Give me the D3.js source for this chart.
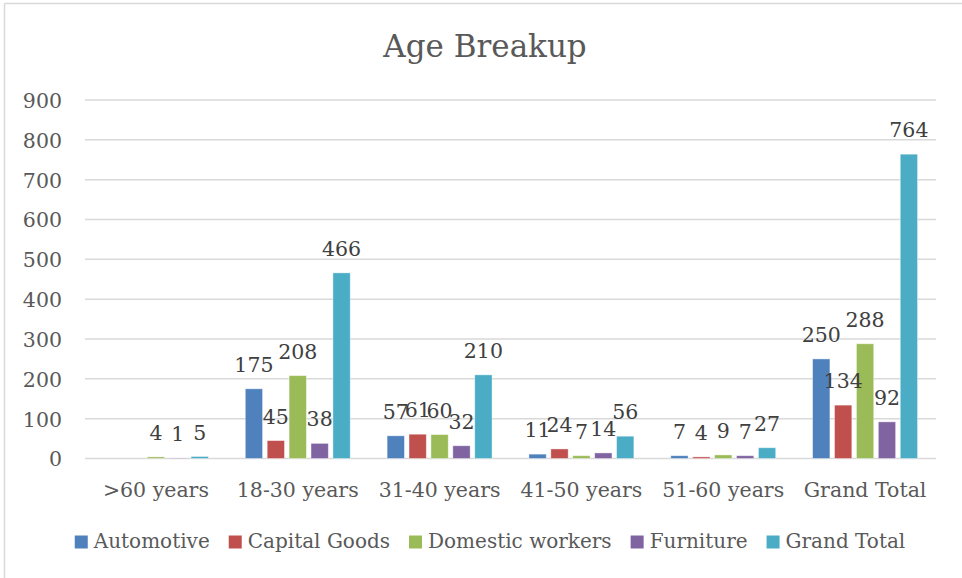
<!DOCTYPE html>
<html>
<head>
<meta charset="utf-8">
<script src="https://cdn.jsdelivr.net/npm/d3@7"></script>
<style>
  html, body { margin: 0; padding: 0; background: #fff; }
  svg { display: block; }
  text { font-family: "DejaVu Serif", serif; }
</style>
</head>
<body>
<svg id="chart" width="962" height="578"></svg>
<script>
const categories = [">60 years", "18-30 years", "31-40 years", "41-50 years", "51-60 years", "Grand Total"];
const seriesNames = ["Automotive", "Capital Goods", "Domestic workers", "Furniture", "Grand Total"];
const automotive      = [null, 175, 57, 11, 7, 250];
const capitalGoods    = [null, 45, 61, 24, 4, 134];
const domesticWorkers = [4, 208, 60, 7, 9, 288];
const furniture       = [1, 38, 32, 14, 7, 92];
const grandTotal      = [5, 466, 210, 56, 27, 764];
const yTicks = [0, 100, 200, 300, 400, 500, 600, 700, 800, 900];
const colors = ["#4F81BD", "#C0504D", "#9BBB59", "#8064A2", "#4BACC6"];
const title = "Age Breakup";

const seriesValues = [automotive, capitalGoods, domesticWorkers, furniture, grandTotal];

const svg = d3.select("#chart");
const W = 962, H = 578;

// outer border (only top and left edges are visible in the frame)
svg.append("line").attr("x1", 4.5).attr("x2", W).attr("y1", 3.5).attr("y2", 3.5)
  .attr("stroke", "#d9d9d9").attr("stroke-width", 1.5);
svg.append("line").attr("x1", 4.5).attr("x2", 4.5).attr("y1", 3.5).attr("y2", H)
  .attr("stroke", "#d9d9d9").attr("stroke-width", 1.5);

const plot = { left: 85, right: 936, top: 100, bottom: 458.5 };

const x0 = d3.scaleBand().domain(categories).range([plot.left, plot.right]).padding(0);
const x1 = d3.scaleBand().domain(seriesNames).range([0, x0.bandwidth()])
  .paddingInner(0.21).paddingOuter(0.842);
const y = d3.scaleLinear().domain([0, 900]).range([plot.bottom, plot.top]);

// gridlines
svg.append("g").selectAll("line").data(yTicks).join("line")
  .attr("x1", plot.left).attr("x2", plot.right)
  .attr("y1", d => y(d)).attr("y2", d => y(d))
  .attr("stroke", "#d9d9d9").attr("stroke-width", 1.5);

// y axis labels
const yAxis = d3.axisLeft(y).tickValues(yTicks).tickSize(0).tickPadding(0);
const gy = svg.append("g").attr("transform", `translate(62,0)`).call(yAxis);
gy.select(".domain").remove();
gy.selectAll("text").attr("fill", "#595959").style("font-size", "20.5px")
  .style("font-family", "DejaVu Serif").attr("dy", "0.36em");

// x axis labels
const xAxis = d3.axisBottom(x0).tickSize(0).tickPadding(0);
const gx = svg.append("g").attr("transform", `translate(0,497)`).call(xAxis);
gx.select(".domain").remove();
gx.selectAll("text").attr("fill", "#595959").style("font-size", "20.5px")
  .style("font-family", "DejaVu Serif").attr("dy", 0);

// bars
const data = [];
categories.forEach((c, i) => {
  seriesNames.forEach((s, j) => {
    data.push({ cat: c, series: s, value: seriesValues[j][i], color: colors[j] });
  });
});
const valid = data.filter(d => d.value != null);

svg.append("g").selectAll("rect").data(valid).join("rect")
  .attr("x", d => x0(d.cat) + x1(d.series))
  .attr("width", x1.bandwidth())
  .attr("y", d => y(d.value))
  .attr("height", d => y(0) - y(d.value))
  .attr("fill", d => d.color)
  .attr("stroke", "#ffffff").attr("stroke-opacity", 0.5).attr("stroke-width", 0.8);

// data labels
svg.append("g").selectAll("text").data(valid).join("text")
  .attr("x", d => x0(d.cat) + x1(d.series) + x1.bandwidth() / 2)
  .attr("y", d => y(d.value) - 17)
  .attr("text-anchor", "middle")
  .attr("fill", "#404040")
  .style("font-size", "20.5px")
  .text(d => d.value);

// title
svg.append("text").attr("x", 485).attr("y", 57).attr("text-anchor", "middle")
  .attr("fill", "#595959").style("font-size", "31px").text(title);

// legend
const lg = svg.append("g");
let lx = 0;
seriesNames.forEach((s, j) => {
  const g = lg.append("g");
  g.append("rect").attr("x", lx).attr("y", 535.5).attr("width", 13).attr("height", 13).attr("fill", colors[j]);
  const t = g.append("text").attr("x", lx + 19).attr("y", 548).attr("fill", "#595959")
    .style("font-size", "20px").text(s);
  const w = t.node().getComputedTextLength();
  lx += 19 + w + 19;
});
const total = lx - 19;
lg.attr("transform", `translate(${490 - total / 2},0)`);
</script>
</body>
</html>
